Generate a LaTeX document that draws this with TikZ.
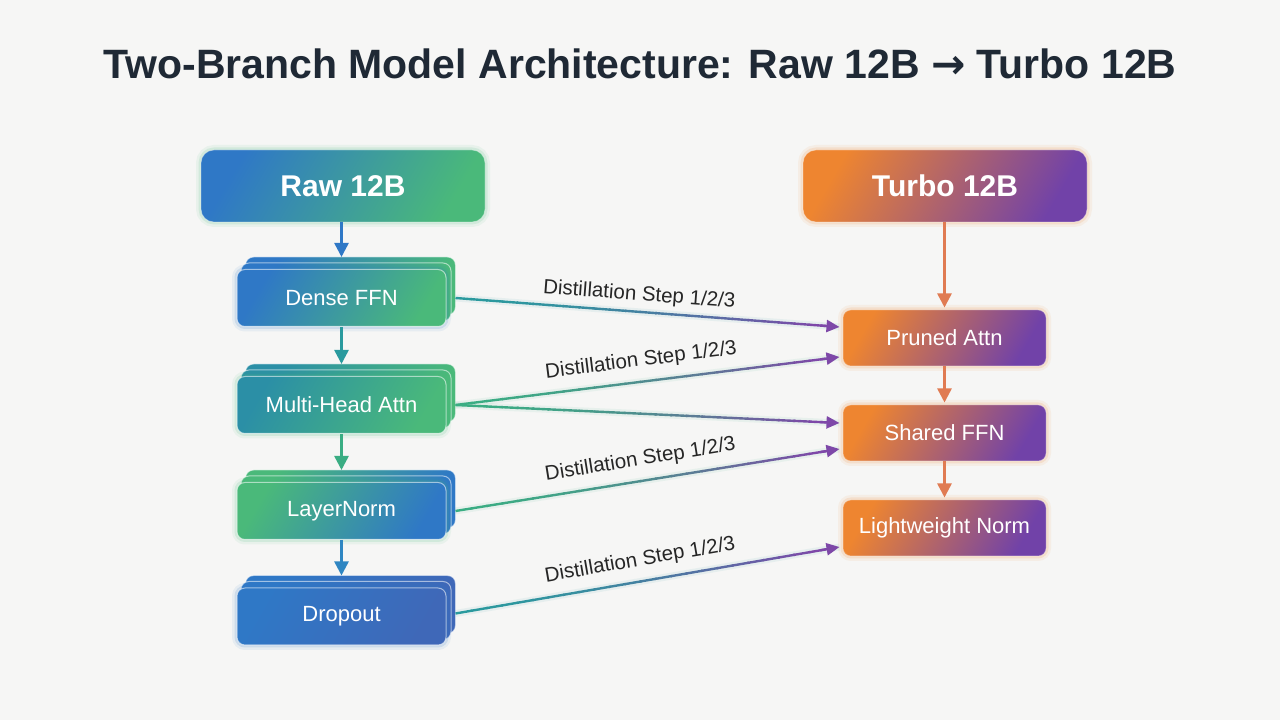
\documentclass[tikz,border=0pt]{standalone}
\usepackage{fontspec}
\setmainfont{Liberation Sans}
\newfontfamily\arrowfont{DejaVu Sans}
\usetikzlibrary{positioning,calc,arrows.meta,backgrounds}

\definecolor{pagebg}{HTML}{F6F6F5}
\definecolor{titleink}{HTML}{1F2935}
\definecolor{labelink}{HTML}{262626}
\definecolor{rawblue}{HTML}{2F78C6}
\definecolor{rawgreen}{HTML}{4AB97A}
\definecolor{rawteal}{HTML}{2B8FA6}
\definecolor{rawindigo}{HTML}{3F68B8}
\definecolor{flowteal}{HTML}{2A9A9E}
\definecolor{flowgreen}{HTML}{3AAD83}
\definecolor{flowblue}{HTML}{2F86C2}
\definecolor{turboorange}{HTML}{EE8530}
\definecolor{turbopurple}{HTML}{7142A8}
\definecolor{turboarrow}{HTML}{E07B52}
\definecolor{distpurple}{HTML}{7E48A8}

\tikzset{
  glow/.style={preaction={draw=#1, draw opacity=0.08, line width=10pt},
               preaction={draw=#1, draw opacity=0.14, line width=5pt}},
  headbox/.style={rounded corners=13pt, minimum width=284pt, minimum height=72pt,
                  text=white, font=\fontsize{30}{36}\selectfont\bfseries,
                  draw=white, draw opacity=0.35, line width=0.8pt},
  layerbox/.style={rounded corners=8pt, minimum width=209pt, minimum height=57pt,
                  text=white, font=\fontsize{22}{26}\selectfont,
                  draw=white, draw opacity=0.55, line width=1pt},
  backcard/.style={rounded corners=8pt, draw=white, draw opacity=0.55, line width=1pt},
  turbobox/.style={layerbox, minimum width=203pt, minimum height=56pt, draw opacity=0.25,
                  glow=turboorange, left color=turboorange, right color=turbopurple, shading angle=60},
  flow/.style={line width=2.5pt, -{Triangle[length=14pt, width=14pt]}},
  distseg/.style={line width=2.4pt},
  distlabel/.style={sloped, above=#1, pos=0.49, inner sep=0pt, text=labelink,
                  font=\fontsize{20.5}{24}\selectfont},
  distlabel/.default=11pt,
}

% gradient connector: from, to, start colour
\newcommand{\distarrow}[3]{%
  \draw[line width=7pt, draw opacity=0.08, #3] (#1) -- (#2);
  \foreach \i in {0,...,23}{%
    \pgfmathsetmacro{\ta}{\i/25}%
    \pgfmathsetmacro{\tb}{(\i+1.1)/25}%
    \pgfmathtruncatemacro{\mixval}{100-100*(\i/23)^1.7}%
    \draw[distseg, color=#3!\mixval!distpurple] ($(#1)!\ta!(#2)$) -- ($(#1)!\tb!(#2)$);
  }%
  \draw[distseg, distpurple, -{Triangle[length=13pt, width=12pt]}] ($(#1)!0.95!(#2)$) -- (#2);
}

\begin{document}
\begin{tikzpicture}[x=1pt, y=1pt]
  \useasboundingbox (0,0) rectangle (1280,720);
  \begin{scope}[on background layer]
    \fill[pagebg] (0,0) rectangle (1280,720);
  \end{scope}

  % title
  \node[text=titleink, font=\fontsize{41}{48}\selectfont\bfseries] (title) at (640,656)
    {Two-Branch Model Architecture: Raw 12B {\arrowfont\bfseries →} Turbo 12B};

  % branch heads
  \node[headbox, glow=rawgreen, left color=rawblue, right color=rawgreen, shading angle=60] (raw) at (343,534) {Raw 12B};
  \node[headbox, glow=turboorange, left color=turboorange, right color=turbopurple, shading angle=60] (turbo) at (945,534) {Turbo 12B};

  % raw branch, stacked layers
  \node[layerbox, glow=rawblue, left color=rawblue, right color=rawgreen, shading angle=60] (dense) at (341.5,422) {Dense FFN};
  \node[layerbox, glow=rawgreen, left color=rawteal, right color=rawgreen, shading angle=60] (mha) at (341.5,315) {Multi-Head Attn};
  \node[layerbox, glow=rawgreen, left color=rawgreen, right color=rawblue, shading angle=60] (ln) at (341.5,209) {LayerNorm};
  \node[layerbox, glow=rawblue, left color=rawblue, right color=rawindigo, shading angle=60] (drop) at (341.5,103.5) {Dropout};

  \begin{scope}[on background layer]
    \foreach \nm/\ca/\cb in {dense/rawblue/rawgreen, mha/rawteal/rawgreen, ln/rawgreen/rawblue, drop/rawblue/rawindigo}
      \foreach \k in {2,1}
        \draw[backcard, left color=\ca, right color=\cb, shading angle=60]
          ([shift={(4.5*\k,6*\k)}]\nm.south west) rectangle ([shift={(4.5*\k,6*\k)}]\nm.north east);
  \end{scope}

  % turbo branch
  \node[turbobox] (pruned) at (944.5,382) {Pruned Attn};
  \node[turbobox] (shared) at (944.5,287) {Shared FFN};
  \node[turbobox] (light) at (944.5,192) {Lightweight Norm};

  % vertical flow
  \draw[flow, rawblue] (dense.north |- raw.south) -- ([yshift=12pt]dense.north);
  \draw[flow, flowteal] (dense.south) -- ([yshift=12pt]mha.north);
  \draw[flow, flowgreen] (mha.south) -- ([yshift=12pt]ln.north);
  \draw[flow, flowblue] (ln.south) -- ([yshift=12pt]drop.north);

  \draw[flow, turboarrow] (turbo.south -| pruned.north) -- ([yshift=2pt]pruned.north);
  \draw[flow, turboarrow] (pruned.south) -- ([yshift=2pt]shared.north);
  \draw[flow, turboarrow] (shared.south) -- ([yshift=2pt]light.north);

  % distillation connectors
  \coordinate (denseout) at ([xshift=9pt]dense.east);
  \coordinate (mhaout) at ([xshift=9pt]mha.east);
  \coordinate (lnout) at ([xshift=9pt]ln.east);
  \coordinate (dropout) at ([xshift=9pt,yshift=3pt]drop.east);
  \coordinate (prunedinA) at ([xshift=-3pt,yshift=11pt]pruned.west);
  \coordinate (prunedinB) at ([xshift=-3pt,yshift=-19pt]pruned.west);
  \coordinate (sharedinA) at ([xshift=-3pt,yshift=10pt]shared.west);
  \coordinate (sharedinB) at ([xshift=-3pt,yshift=-16pt]shared.west);
  \coordinate (lightin) at ([xshift=-3pt,yshift=-19pt]light.west);

  \distarrow{denseout}{prunedinA}{flowteal}
  \distarrow{mhaout}{prunedinB}{flowgreen}
  \distarrow{mhaout}{sharedinA}{flowgreen}
  \distarrow{lnout}{sharedinB}{flowgreen}
  \distarrow{dropout}{lightin}{flowteal}

  \path (denseout) -- node[distlabel=7pt, pos=0.475] {Distillation Step 1/2/3} (prunedinA);
  \path (mhaout) -- node[distlabel] {Distillation Step 1/2/3} (prunedinB);
  \path (lnout) -- node[distlabel] {Distillation Step 1/2/3} (sharedinB);
  \path (dropout) -- node[distlabel] {Distillation Step 1/2/3} (lightin);
\end{tikzpicture}
\end{document}
